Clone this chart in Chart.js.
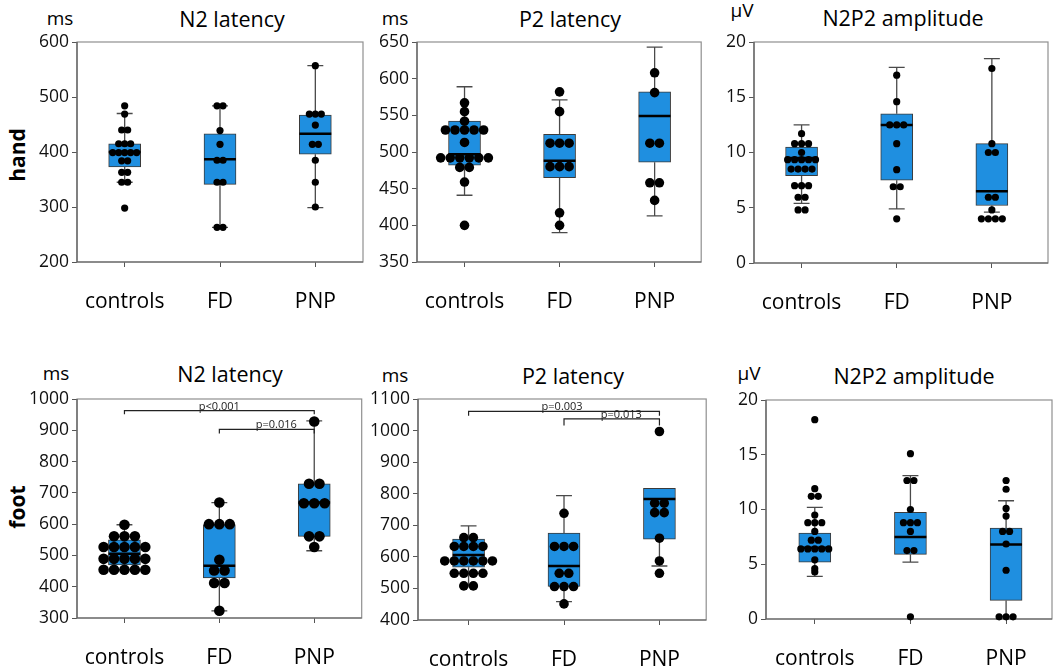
<!DOCTYPE html>
<html>
<head>
<meta charset="utf-8">
<script src="https://cdn.jsdelivr.net/npm/chart.js@4.4.1/dist/chart.umd.min.js"></script>
<style>
body { margin: 0; background: #fff; }
#fig { position: relative; width: 1056px; height: 666px; overflow: hidden; font-family: 'Open Sans', sans-serif; color: #000; }
#fig canvas { position: absolute; }
.lbl { position: absolute; transform: translate(-50%, -50%); white-space: nowrap; }
.title { font-size: 21.5px; }
.unit { font-size: 19px; }
.row { font-size: 21px; font-weight: bold; transform: translate(-50%, -50%) rotate(-90deg); }
</style>
</head>
<body>
<div id="fig">
  <div class="lbl row" style="left:17px;top:155px">hand</div>
  <div class="lbl row" style="left:17px;top:507px">foot</div>

  <div class="lbl unit" style="left:60px;top:18px">ms</div>
  <div class="lbl title" style="left:232px;top:18px">N2 latency</div>
  <div class="lbl unit" style="left:395px;top:18px">ms</div>
  <div class="lbl title" style="left:570px;top:18px">P2 latency</div>
  <div class="lbl unit" style="left:742px;top:10px">µV</div>
  <div class="lbl title" style="left:903px;top:17px">N2P2 amplitude</div>

  <div class="lbl unit" style="left:56px;top:373px">ms</div>
  <div class="lbl title" style="left:230px;top:373px">N2 latency</div>
  <div class="lbl unit" style="left:395px;top:375px">ms</div>
  <div class="lbl title" style="left:573px;top:375px">P2 latency</div>
  <div class="lbl unit" style="left:749px;top:373px">µV</div>
  <div class="lbl title" style="left:914px;top:375px">N2P2 amplitude</div>
</div>
<script>
const groups = ['controls', 'FD', 'PNP'];

// box rows are [whisker low, q1, median, q3, whisker high]
const handN2Points = [
  [484, 469, 440, 440, 415, 415, 415, 399, 399, 399, 399, 399, 384, 384, 363, 363, 345, 345, 298],
  [484, 484, 439, 414, 385, 385, 345, 345, 263, 263],
  [557, 469, 469, 469, 449, 414, 414, 385, 345, 300]
];
const handN2Box = [[345, 373, 400, 415, 470], [263, 341, 387, 433, 484], [299, 396, 433, 467, 557]];

const handP2Points = [
  [567, 555, 542, 530, 530, 530, 530, 530, 513, 492, 492, 492, 492, 492, 492, 479, 479, 459, 400],
  [582, 555, 512, 512, 512, 480, 480, 480, 417, 400],
  [608, 581, 512, 512, 458, 458, 434]
];
const handP2Box = [[441, 482, 497, 542, 589], [390, 465, 488, 524, 571], [413, 486, 549, 582, 643]];

const handAmpPoints = [
  [11.7, 10.8, 10.8, 10.8, 10.0, 9.35, 9.35, 9.35, 9.35, 9.35, 8.5, 8.5, 8.5, 8.5, 7.0, 7.0, 7.0, 5.95, 5.95, 4.8, 4.8],
  [17.0, 14.6, 12.5, 12.5, 12.5, 10.8, 8.45, 6.9, 6.9, 4.0],
  [17.6, 10.8, 10.0, 10.0, 5.95, 5.95, 4.8, 4.0, 4.0, 4.0, 4.0]
];
const handAmpBox = [[5.4, 7.9, 9.5, 10.5, 12.5], [4.9, 7.5, 12.5, 13.5, 17.7], [4.6, 5.2, 6.5, 10.8, 18.5]];

const footN2Points = [
  [598, 561, 561, 561, 527, 527, 527, 527, 527, 489, 489, 489, 489, 489, 454, 454, 454, 454, 454],
  [669, 600, 600, 600, 486, 452, 452, 412, 412, 323],
  [928, 729, 729, 667, 667, 667, 561, 561, 527]
];
const footN2Box = [[454, 470, 505, 550, 598], [323, 428, 467, 598, 669], [515, 561, 669, 729, 930]];

const footP2Points = [
  [661, 661, 633, 633, 633, 633, 587, 587, 587, 587, 587, 587, 548, 548, 548, 548, 508, 508],
  [738, 633, 633, 633, 548, 548, 506, 506, 506, 451],
  [997, 770, 770, 740, 740, 659, 587, 548]
];
const footP2Box = [[508, 567, 606, 656, 698], [458, 506, 571, 675, 794], [571, 656, 783, 817, 817]];

const footAmpPoints = [
  [18.2, 11.9, 11.2, 11.2, 9.5, 8.8, 8.8, 8.8, 8.0, 7.2, 7.2, 6.4, 6.4, 6.4, 6.4, 6.4, 5.4, 4.6, 4.3],
  [15.1, 12.65, 12.65, 10.0, 8.8, 8.8, 8.8, 8.0, 6.25, 6.25, 0.2],
  [12.65, 11.85, 10.1, 9.4, 8.0, 8.0, 6.85, 4.45, 0.2, 0.2, 0.2]
];
const footAmpBox = [[3.9, 5.2, 6.5, 7.85, 10.2], [5.2, 5.9, 7.5, 9.75, 13.1], [0.2, 1.7, 6.8, 8.3, 10.8]];

// [from group, to group, bar level, drop level, label, label position]
const footN2Brackets = [[0, 2, 963, 951, 'p<0.001', 1.0], [1, 2, 903, 890, 'p=0.016', 1.6]];
const footP2Brackets = [[0, 2, 1061, 1047, 'p=0.003', 0.98], [1, 2, 1037, 1016, 'p=0.013', 1.6]];

const panels = [
  { points: handN2Points, box: handN2Box, min: 200, max: 600, step: 100, area: [77, 42, 364, 262], xr: [-0.5, 2.5], r: 3.6, gap: 6 },
  { points: handP2Points, box: handP2Box, min: 350, max: 650, step: 50, area: [417, 42, 703, 262], xr: [-0.5, 2.49], r: 4.8, gap: 9.6 },
  { points: handAmpPoints, box: handAmpBox, min: 0, max: 20, step: 5, area: [754, 42, 1049, 263], xr: [-0.5, 2.59], r: 3.6, gap: 7 },
  { points: footN2Points, box: footN2Box, min: 300, max: 1000, step: 100, area: [77, 399, 364, 618], xr: [-0.5, 2.5], r: 5.3, gap: 10.5, brackets: footN2Brackets },
  { points: footP2Points, box: footP2Box, min: 400, max: 1100, step: 100, area: [418, 399, 708, 620], xr: [-0.53, 2.49], r: 4.8, gap: 9.6, brackets: footP2Brackets },
  { points: footAmpPoints, box: footAmpBox, min: 0, max: 20, step: 5, area: [766, 400, 1053, 619], xr: [-0.51, 2.48], r: 3.6, gap: 7 }
];

const FONT = "'Open Sans', sans-serif";
const LEFT = 60, TOP = 14, BOTTOM = 62, RIGHT = 3;

// points with the same value sit side by side around the group centre
function swarm(points, step) {
  const out = [];
  points.forEach((vals, gi) => {
    const counts = {}, seen = {};
    vals.forEach(v => counts[v] = (counts[v] || 0) + 1);
    vals.forEach(v => {
      const i = seen[v] = (seen[v] || 0) + 1;
      out.push({ x: gi + (i - 1 - (counts[v] - 1) / 2) * step, y: v });
    });
  });
  return out;
}

// polylines joined into one dataset, split by null gaps
function segments(list) {
  const d = [];
  list.forEach((s, i) => {
    if (i) d.push({ x: s[0][0], y: null });
    s.forEach(p => d.push({ x: p[0], y: p[1] }));
  });
  return d;
}

function extras(brackets) {
  return {
    id: 'extras',
    beforeDatasetsDraw(chart) {
      const { ctx, chartArea: a } = chart;
      ctx.save();
      ctx.lineWidth = 1.2;
      ctx.strokeStyle = '#8f8f8f';
      ctx.strokeRect(a.left, a.top, a.width, a.height);
      ctx.strokeStyle = '#5a5a5a';
      ctx.beginPath();
      ctx.moveTo(a.left, a.top);
      ctx.lineTo(a.left, a.bottom);
      ctx.lineTo(a.right, a.bottom);
      ctx.stroke();
      ctx.restore();
    },
    afterDatasetsDraw(chart) {
      if (!brackets) return;
      const { ctx, scales } = chart;
      ctx.save();
      ctx.font = '11px ' + FONT;
      ctx.fillStyle = '#222';
      ctx.textAlign = 'center';
      ctx.textBaseline = 'alphabetic';
      brackets.forEach(b => {
        ctx.fillText(b[4], scales.x.getPixelForValue(b[5]), scales.y.getPixelForValue(b[2]) - 1);
      });
      ctx.restore();
    }
  };
}

const fig = document.getElementById('fig');

panels.forEach(p => {
  const [l, t, r, b] = p.area;
  const canvas = document.createElement('canvas');
  canvas.width = LEFT + (r - l) + RIGHT;
  canvas.height = TOP + (b - t) + BOTTOM;
  canvas.style.left = (l - LEFT) + 'px';
  canvas.style.top = (t - TOP) + 'px';
  fig.appendChild(canvas);

  const unit = (r - l) / (p.xr[1] - p.xr[0]);   // pixels per group
  const half = 16 / unit, cap = 8 / unit;

  const whiskers = [], medians = [], boxes = [];
  p.box.forEach((s, gi) => {
    boxes.push({ x: gi, y: [s[1], s[3]] });
    medians.push([[gi - half, s[2]], [gi + half, s[2]]]);
    if (s[0] < s[1]) {
      whiskers.push([[gi, s[1]], [gi, s[0]]]);
      whiskers.push([[gi - cap, s[0]], [gi + cap, s[0]]]);
    }
    if (s[4] > s[3]) {
      whiskers.push([[gi, s[3]], [gi, s[4]]]);
      whiskers.push([[gi - cap, s[4]], [gi + cap, s[4]]]);
    }
  });
  const bracketLines = (p.brackets || []).map(k =>
    [[k[0], k[3]], [k[0], k[2]], [k[1], k[2]], [k[1], k[3]]]);

  new Chart(canvas, {
    type: 'bar',
    data: {
      datasets: [
        { type: 'line', data: segments(whiskers), borderColor: '#4a4a4a', borderWidth: 1.3, pointRadius: 0, order: 4 },
        { type: 'bar', data: boxes, backgroundColor: '#1f8fe0', borderColor: '#3a3a3a', borderWidth: 1,
          borderSkipped: false, barThickness: 32, order: 3 },
        { type: 'line', data: segments(medians), borderColor: '#000', borderWidth: 2.5, pointRadius: 0, order: 2 },
        { type: 'line', data: segments(bracketLines), borderColor: '#222', borderWidth: 1.2, pointRadius: 0, order: 2 },
        { type: 'scatter', data: swarm(p.points, p.gap / unit), backgroundColor: '#000', borderWidth: 0,
          pointRadius: p.r, clip: false, order: 1 }
      ]
    },
    options: {
      responsive: false,
      animation: false,
      events: [],
      layout: { padding: { top: TOP, right: RIGHT, left: 0, bottom: 0 } },
      plugins: { legend: { display: false }, tooltip: { enabled: false } },
      scales: {
        x: {
          type: 'linear', min: p.xr[0], max: p.xr[1], offset: false,
          afterBuildTicks: s => { s.ticks = [0, 1, 2].map(v => ({ value: v })); },
          afterFit: s => { s.height = BOTTOM; },
          grid: { display: true, drawOnChartArea: false, drawTicks: true, tickLength: 5, color: '#555', offset: false },
          border: { display: false },
          ticks: { callback: v => groups[v], font: { family: FONT, size: 21 }, color: '#000', padding: 22,
                   maxRotation: 0, autoSkip: false }
        },
        y: {
          min: p.min, max: p.max,
          afterFit: s => { s.width = LEFT; },
          grid: { display: true, drawOnChartArea: false, drawTicks: true, tickLength: 5, color: '#555' },
          border: { display: false },
          ticks: { stepSize: p.step, callback: v => String(v), font: { family: FONT, size: 17.5 }, color: '#111', padding: 3 }
        }
      }
    },
    plugins: [extras(p.brackets)]
  });
});
</script>
</body>
</html>
